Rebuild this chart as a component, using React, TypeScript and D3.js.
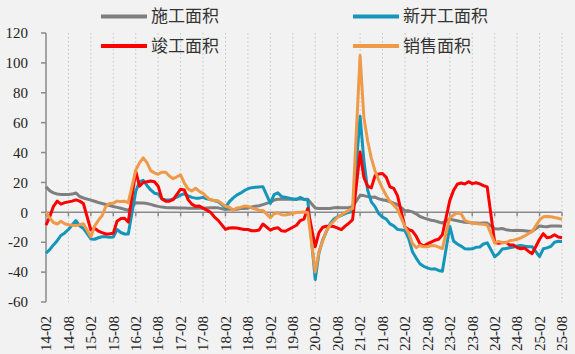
import { useEffect, useRef } from "react";
import * as d3 from "d3";

// monthly categories 14-02 .. 25-08 (January has no separate release, kept as null)
const months = d3
  .timeMonth.range(new Date(2014, 1, 1), new Date(2025, 8, 1))
  .map(d3.timeFormat("%y-%m"));

const tickLabels = [
  "14-02", "14-08", "15-02", "15-08", "16-02", "16-08", "17-02", "17-08",
  "18-02", "18-08", "19-02", "19-08", "20-02", "20-08", "21-02", "21-08",
  "22-02", "22-08", "23-02", "23-08", "24-02", "24-08", "25-02", "25-08",
];

const yTicks = [120, 100, 80, 60, 40, 20, 0, -20, -40, -60];

const seriesNames = ["施工面积", "新开工面积", "竣工面积", "销售面积"];

// 施工面积
const construction = [
  17.0, 14.5, 13.0, 12.3, 12.0, 12.0, 12.0, 12.2, 13.0, 10.6, 9.6,
  null, 8.2, 7.4, 6.6, 5.9, 5.2, 4.6, 3.9, 3.3, 2.7, 2.1, 1.4,
  null, 6.4, 6.3, 6.2, 5.9, 5.3, 4.6, 4.0, 3.5, 3.2, 3.1, 3.1,
  null, 2.9, 2.9, 2.8, 2.8, 2.7, 2.7, 2.8, 2.9, 3.0, 3.1, 3.0,
  null, 1.9, 2.2, 1.9, 2.1, 2.5, 2.6, 2.8, 3.6, 4.0, 4.4, 5.2,
  null, 6.8, 8.2, 8.8, 8.8, 8.8, 9.0, 8.8, 9.0, 9.0, 8.7, 8.7,
  null, 2.9, 2.6, 2.5, 2.6, 2.6, 3.0, 3.2, 3.1, 3.1, 3.2, 3.7,
  null, 11.4, 11.2, 10.5, 10.1, 10.2, 9.0, 8.4, 7.9, 7.1, 6.1, 5.2,
  null, 1.1, 1.0, 0.3, -1.0, -2.8, -3.7, -4.5, -5.3, -5.7, -6.5, -7.2,
  null, -4.4, -5.2, -5.6, -6.2, -6.6, -6.8, -7.1, -7.1, -7.3, -7.2, -7.2,
  null, -11.0, -11.1, -10.8, -11.6, -12.0, -12.1, -12.0, -12.2, -12.4, -12.7, -12.7,
  null, -9.1, -9.5, -9.7, -9.2, -9.1, -9.2, -9.3,
];

// 新开工面积
const newStarts = [
  -27.4, -25.0, -21.8, -19.0, -15.5, -13.8, -11.5, -8.5, -5.5, -9.0, -10.8,
  null, -17.8, -18.0, -17.0, -16.3, -16.3, -16.7, -16.5, -11.5, -13.5, -14.5, -14.5,
  null, 14.0, 20.5, 21.4, 18.0, 15.0, 12.8, 12.3, 9.0, 8.3, 8.2, 9.0,
  null, 11.5, 12.5, 11.0, 10.0, 9.5, 9.5, 10.0, 9.0, 8.5, 7.8, 7.2,
  null, 3.2, 7.0, 9.5, 11.5, 12.8, 14.5, 15.8, 16.5, 16.8, 17.0, 17.2,
  null, 6.0, 11.9, 13.1, 10.5, 10.1, 9.5, 8.9, 8.6, 10.0, 8.6, 8.5,
  null, -44.9, -27.2, -18.4, -12.8, -7.6, -4.5, -3.0, -2.0, -0.8, 0.0, 0.5,
  null, 64.3, 35.0, 15.0, 7.0, 3.8, -0.9, -3.2, -4.5, -7.7, -9.1, -11.4,
  null, -12.2, -17.5, -26.3, -30.6, -34.4, -36.1, -37.2, -38.0, -37.8, -38.9, -39.4,
  null, -9.4, -19.2, -21.2, -22.6, -24.3, -24.5, -24.4, -23.4, -23.2, -21.2, -20.4,
  null, -29.7, -27.8, -24.6, -24.2, -23.7, -23.2, -22.5, -22.2, -22.6, -23.0, -23.0,
  null, -29.6, -24.4, -23.8, -22.8, -20.0, -19.4, -19.5,
];

// 竣工面积
const completions = [
  -8.5, -3.0, 4.0, 7.5, 5.5, 6.5, 7.0, 7.5, 8.3, 7.5, 5.9,
  null, -11.8, -10.7, -12.5, -13.6, -14.5, -14.3, -14.0, -6.0, -4.2, -4.0, -6.5,
  null, 27.5, 17.5, 20.0, 20.5, 21.0, 20.5, 17.5, 9.0, 7.5, 7.5, 8.5,
  null, 15.5, 15.0, 8.5, 5.5, 4.0, 4.2, 2.8, 1.5, 0.0, -3.0, -5.2,
  null, -11.4, -10.5, -10.3, -10.5, -11.0, -11.5, -11.5, -12.3, -12.3, -11.8, -7.8,
  null, -11.9, -10.8, -10.3, -12.4, -12.7, -11.3, -10.0, -8.6, -5.5, -4.5, 2.6,
  null, -23.0, -13.5, -10.0, -9.3, -9.3, -9.5, -10.5, -11.6, -9.2, -7.3, -4.9,
  null, 40.4, 23.5, 17.5, 16.4, 24.5, 25.7, 26.0, 23.4, 17.0, 16.0, 11.2,
  null, -9.8, -11.5, -12.5, -16.0, -21.0, -22.5, -21.1, -19.9, -18.7, -18.0, -15.0,
  null, 8.0, 14.7, 18.8, 19.6, 19.0, 20.5, 19.2, 19.8, 19.0, 17.9, 17.0,
  null, -20.2, -20.7, -20.4, -20.1, -21.8, -21.8, -23.6, -24.4, -23.9, -26.0, -27.7,
  null, -18.0, -14.3, -17.0, -16.5, -15.0, -16.5, -17.0,
];

// 销售面积
const sales = [
  -0.1, -3.8, -6.8, -7.8, -6.0, -7.6, -8.3, -8.6, -8.9, -8.2, -7.6,
  null, -16.3, -9.2, -5.4, -2.2, 3.9, 5.9, 6.1, 7.5, 7.2, 7.4, 6.5,
  null, 28.2, 33.1, 36.5, 33.2, 27.9, 26.4, 25.5, 26.9, 26.8, 24.3, 22.5,
  null, 25.1, 19.5, 15.7, 14.3, 16.1, 14.0, 12.7, 10.3, 8.2, 7.9, 7.7,
  null, 4.1, 3.6, 1.3, 2.9, 3.3, 4.2, 4.0, 2.9, 2.2, 1.4, 1.3,
  null, -3.6, -0.9, -0.3, -1.6, -1.8, -1.3, -0.6, -0.1, 0.1, 0.2, -0.1,
  null, -39.9, -26.3, -19.3, -12.3, -8.4, -5.8, -3.3, -1.8, 0.0, 1.3, 2.6,
  null, 104.9, 63.8, 48.1, 36.3, 27.7, 21.5, 15.9, 11.3, 7.3, 4.8, 1.9,
  null, -9.6, -13.8, -20.9, -23.6, -22.2, -23.1, -23.0, -22.2, -22.3, -23.3, -24.3,
  null, -3.6, -1.8, -0.4, -0.9, -5.3, -6.5, -7.1, -7.5, -7.8, -8.0, -8.5,
  null, -20.5, -19.4, -20.2, -20.3, -19.0, -18.6, -18.0, -17.1, -15.8, -14.3, -12.9,
  null, -5.1, -3.0, -2.8, -2.9, -3.5, -4.0, -4.7,
];

const seriesValues = [construction, newStarts, completions, sales];

export default function App() {
  const ref = useRef<SVGSVGElement>(null);

  useEffect(() => {
    document.body.style.margin = "0";
    document.body.style.background = "#f2f2f2";

    const width = 575;
    const height = 354;
    const svg = d3.select(ref.current);
    svg.selectAll("*").remove();
    svg.attr("width", width).attr("height", height);

    svg.append("rect").attr("width", width).attr("height", height).attr("fill", "#f2f2f2");

    const colors = ["#7f7f7f", "#1396ba", "#ff0000", "#ee9a48"];
    const serif = "'Liberation Serif', 'Times New Roman', serif";
    const cjk = "'Noto Sans CJK SC', sans-serif";

    const x = d3.scalePoint<string>().domain(months).range([46, 562]);
    const y = d3.scaleLinear().domain([-60, 120]).range([302, 33]);

    // vertical dotted grid
    svg
      .append("g")
      .selectAll("line")
      .data(tickLabels.slice(1))
      .enter()
      .append("line")
      .attr("x1", (d) => x(d)!)
      .attr("x2", (d) => x(d)!)
      .attr("y1", y(120))
      .attr("y2", y(-60))
      .attr("stroke", "#c4c4c4")
      .attr("stroke-width", 1)
      .attr("stroke-dasharray", "1.5,2.5");

    // y axis
    const yAxis = svg.append("g");
    yAxis
      .append("line")
      .attr("x1", 46)
      .attr("x2", 46)
      .attr("y1", y(120))
      .attr("y2", y(-60))
      .attr("stroke", "#8a8a8a")
      .attr("stroke-width", 1.5);
    yAxis
      .selectAll("line.tick")
      .data(yTicks)
      .enter()
      .append("line")
      .attr("class", "tick")
      .attr("x1", 41)
      .attr("x2", 46)
      .attr("y1", (d) => y(d))
      .attr("y2", (d) => y(d))
      .attr("stroke", "#8a8a8a")
      .attr("stroke-width", 1.5);
    yAxis
      .selectAll("text")
      .data(yTicks)
      .enter()
      .append("text")
      .attr("x", 28)
      .attr("y", (d) => y(d))
      .attr("dy", "0.35em")
      .attr("text-anchor", "end")
      .style("font-family", serif)
      .style("font-size", "15px")
      .style("fill", "#222")
      .text((d) => d);

    // zero axis with ticks
    const xAxis = svg.append("g");
    xAxis
      .append("line")
      .attr("x1", 46)
      .attr("x2", 562)
      .attr("y1", y(0))
      .attr("y2", y(0))
      .attr("stroke", "#8a8a8a")
      .attr("stroke-width", 1.5);
    xAxis
      .selectAll("line.tick")
      .data(tickLabels)
      .enter()
      .append("line")
      .attr("class", "tick")
      .attr("x1", (d) => x(d)!)
      .attr("x2", (d) => x(d)!)
      .attr("y1", y(0))
      .attr("y2", y(0) + 4)
      .attr("stroke", "#8a8a8a")
      .attr("stroke-width", 1.5);

    // x labels at bottom, rotated
    svg
      .append("g")
      .selectAll("text")
      .data(tickLabels)
      .enter()
      .append("text")
      .attr("transform", (d) => `translate(${x(d)},316) rotate(-90)`)
      .attr("dy", "0.35em")
      .attr("text-anchor", "end")
      .style("font-family", serif)
      .style("font-size", "15px")
      .style("fill", "#222")
      .text((d) => d);

    // series
    type Pt = { m: string; v: number };
    const line = d3
      .line<Pt>()
      .x((d) => x(d.m)!)
      .y((d) => y(d.v));

    seriesValues.forEach((values, k) => {
      const pts: Pt[] = [];
      values.forEach((v, i) => {
        if (v != null) pts.push({ m: months[i], v });
      });
      svg
        .append("path")
        .attr("d", line(pts))
        .attr("fill", "none")
        .attr("stroke", colors[k])
        .attr("stroke-width", 3)
        .attr("stroke-linejoin", "round");
    });

    // legend
    const legendPos = [
      [101, 16.5],
      [353, 16.5],
      [101, 46],
      [353, 46],
    ];
    const legend = svg.append("g");
    seriesNames.forEach((name, k) => {
      const [lx, ly] = legendPos[k];
      legend
        .append("line")
        .attr("x1", lx)
        .attr("x2", lx + 46)
        .attr("y1", ly)
        .attr("y2", ly)
        .attr("stroke", colors[k])
        .attr("stroke-width", 4);
      legend
        .append("text")
        .attr("x", lx + 50)
        .attr("y", ly)
        .attr("dy", "0.35em")
        .style("font-family", cjk)
        .style("font-size", "17px")
        .style("fill", "#333")
        .text(name);
    });
  }, []);

  return <svg ref={ref} style={{ display: "block" }}></svg>;
}
